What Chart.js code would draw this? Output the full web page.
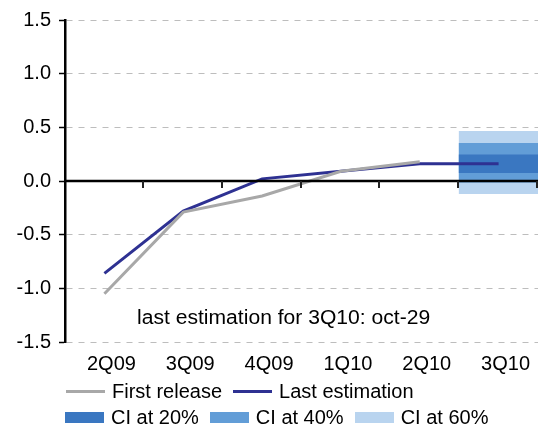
<!DOCTYPE html>
<html>
<head>
<meta charset="utf-8">
<script src="https://cdn.jsdelivr.net/npm/chart.js@4/dist/chart.umd.min.js"></script>
<style>
  html, body { margin: 0; padding: 0; background: #fff; }
  #wrap { position: relative; width: 549px; height: 427px; font-family: 'Liberation Sans', Arial, sans-serif; color: #000; }
  #wrap canvas { position: absolute; left: 0; top: 0; }
  .note { position: absolute; left: 137px; top: 306px; font-size: 20px; white-space: nowrap; transform: scaleX(1.055); transform-origin: left top; }
  .row { position: absolute; display: flex; align-items: center; font-size: 20px; white-space: nowrap; }
  .item { display: flex; align-items: center; margin-right: 11px; }
  .item span.sw { display: inline-block; width: 39px; margin-right: 7px; }
</style>
</head>
<body>
<div id="wrap">
  <canvas id="chart" width="549" height="427"></canvas>
  <div class="note" id="note"></div>
  <div class="row" id="row1" style="left:66px; top:380px;"></div>
  <div class="row" id="row2" style="left:65px; top:406px;"></div>
</div>
<script>
const quarters = ['2Q09', '3Q09', '4Q09', '1Q10', '2Q10', '3Q10'];
const firstRelease = [-1.05, -0.29, -0.14, 0.09, 0.18, null];
const lastEstimation = [-0.86, -0.28, 0.02, 0.09, 0.16, 0.16];
// confidence bands for the last quarter only: [low, high]
const ci20 = [null, null, null, null, null, [0.077, 0.243]];
const ci40 = [null, null, null, null, null, [-0.01, 0.352]];
const ci60 = [null, null, null, null, null, [-0.118, 0.463]];
const yTicks = [-1.5, -1.0, -0.5, 0.0, 0.5, 1.0, 1.5];
const noteText = 'last estimation for 3Q10: oct-29';

const grey = '#a8a8a8';
const navy = '#2e3192';
const blue20 = '#3a77c1';
const blue40 = '#629dd7';
const blue60 = '#b9d4ef';

// zero line + category ticks sit on y = 0, drawn over the bars
const zeroAxis = {
  id: 'zeroAxis',
  afterDatasetsDraw(chart) {
    const { ctx, chartArea, scales: { x, y } } = chart;
    const y0 = y.getPixelForValue(0);
    ctx.save();
    ctx.strokeStyle = '#000';
    ctx.lineWidth = 2.5;
    ctx.beginPath();
    ctx.moveTo(chartArea.left, y0);
    ctx.lineTo(chartArea.right, y0);
    ctx.stroke();
    ctx.strokeStyle = '#222';
    ctx.lineWidth = 2;
    const step = x.width / quarters.length;
    for (let i = 1; i <= quarters.length; i++) {
      const px = Math.round(x.left + i * step) - 1;
      ctx.beginPath();
      ctx.moveTo(px, y0);
      ctx.lineTo(px, y0 + 7);
      ctx.stroke();
    }
    ctx.restore();
  },
};

new Chart(document.getElementById('chart'), {
  type: 'bar',
  data: {
    labels: quarters,
    datasets: [
      { type: 'line', label: 'First release', data: firstRelease, borderColor: grey, borderWidth: 3, pointRadius: 0, tension: 0, order: 0 },
      { type: 'line', label: 'Last estimation', data: lastEstimation, borderColor: navy, borderWidth: 3, pointRadius: 0, tension: 0, order: 0 },
      { label: 'CI at 20%', data: ci20, backgroundColor: blue20, grouped: false, barPercentage: 1, categoryPercentage: 1, order: 1 },
      { label: 'CI at 40%', data: ci40, backgroundColor: blue40, grouped: false, barPercentage: 1, categoryPercentage: 1, order: 2 },
      { label: 'CI at 60%', data: ci60, backgroundColor: blue60, grouped: false, barPercentage: 1, categoryPercentage: 1, order: 3 },
    ],
  },
  options: {
    responsive: false,
    animation: false,
    layout: { padding: { left: 0, right: 11, top: 19, bottom: 49 } },
    plugins: { legend: { display: false }, tooltip: { enabled: false } },
    scales: {
      x: {
        grid: { display: false },
        border: { display: false },
        ticks: {
          color: '#000',
          padding: 2,
          labelOffset: 7,
          font: { family: "'Liberation Sans', Arial, sans-serif", size: 20 },
        },
      },
      y: {
        min: -1.5,
        max: 1.5,
        afterBuildTicks(scale) {
          scale.ticks = yTicks.map((v) => ({ value: v }));
        },
        afterFit(scale) {
          scale.width = 65;
        },
        border: { display: true, color: '#000', width: 2.5, dash: [6, 6] },
        grid: {
          color: (c) => (c.tick && c.tick.value === 0 ? 'rgba(0,0,0,0)' : '#bdbdbd'),
          lineWidth: 1,
          drawTicks: true,
          tickLength: 6,
          tickColor: '#000',
          tickWidth: 1.5,
          tickBorderDash: [],
        },
        ticks: {
          color: '#000',
          padding: 8,
          font: { family: "'Liberation Sans', Arial, sans-serif", size: 20 },
          callback: (v) => Number(v).toFixed(1),
        },
      },
    },
  },
  plugins: [zeroAxis],
});

document.getElementById('note').textContent = noteText;

function legendItem(label, swatch) {
  const item = document.createElement('div');
  item.className = 'item';
  const sw = document.createElement('span');
  sw.className = 'sw';
  Object.assign(sw.style, swatch);
  const txt = document.createElement('span');
  txt.textContent = label;
  item.appendChild(sw);
  item.appendChild(txt);
  return item;
}
const row1 = document.getElementById('row1');
row1.appendChild(legendItem('First release', { height: '3px', background: grey }));
row1.appendChild(legendItem('Last estimation', { height: '3px', background: navy }));
const row2 = document.getElementById('row2');
row2.appendChild(legendItem('CI at 20%', { height: '11px', background: blue20 }));
row2.appendChild(legendItem('CI at 40%', { height: '11px', background: blue40 }));
row2.appendChild(legendItem('CI at 60%', { height: '11px', background: blue60 }));
</script>
</body>
</html>
